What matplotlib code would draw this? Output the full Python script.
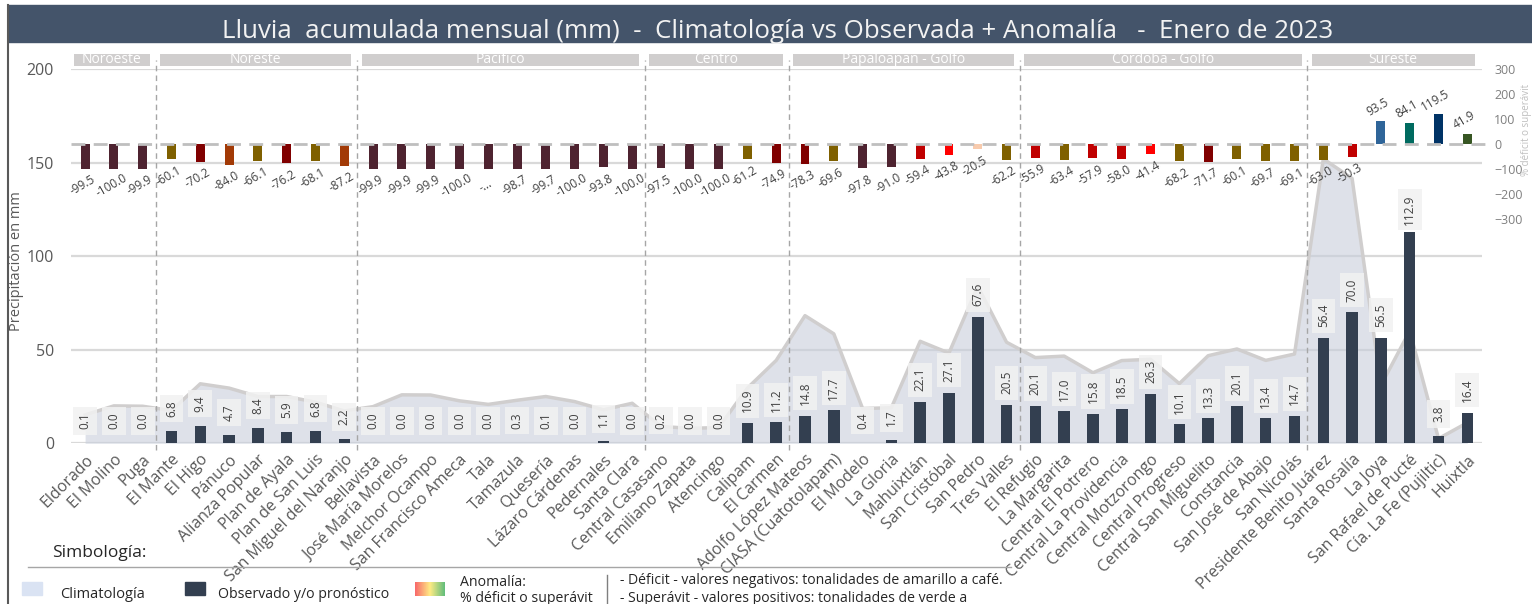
import numpy as np
import matplotlib.pyplot as plt
from matplotlib.patches import Rectangle
from matplotlib.lines import Line2D
from matplotlib.colors import LinearSegmentedColormap

plt.rcParams['font.family'] = ['Open Sans', 'DejaVu Sans']

# Data
stations = ['Eldorado', 'El Molino', 'Puga',
            'El Mante', 'El Higo', 'Pánuco', 'Alianza Popular', 'Plan de Ayala',
            'Plan de San Luis', 'San Miguel del Naranjo',
            'Bellavista', 'José María Morelos', 'Melchor Ocampo', 'San Francisco Ameca',
            'Tala', 'Tamazula', 'Quesería', 'Lázaro Cárdenas', 'Pedernales', 'Santa Clara',
            'Central Casasano', 'Emiliano Zapata', 'Atencingo', 'Calipam', 'El Carmen',
            'Adolfo López Mateos', 'CIASA (Cuatotolapam)', 'El Modelo', 'La Gloria',
            'Mahuixtlán', 'San Cristóbal', 'San Pedro', 'Tres Valles',
            'El Refugio', 'La Margarita', 'Central El Potrero', 'Central La Providencia',
            'Central Motzorongo', 'Central Progreso', 'Central San Miguelito', 'Constancia',
            'San José de Abajo', 'San Nicolás',
            'Presidente Benito Juárez', 'Santa Rosalía', 'La Joya', 'San Rafael de Pucté',
            'Cía. La Fe (Pujiltic)', 'Huixtla']
regions = ['Noroeste', 'Noreste', 'Pacífico', 'Centro', 'Papaloapan - Golfo',
           'Córdoba - Golfo', 'Sureste']
region_size = [3, 7, 10, 5, 8, 10, 6]

climatology = [15.2, 20.0, 19.8, 17.5, 31.8, 29.5, 25.0, 25.0, 22.0, 17.3,
               19.6, 25.9, 25.8, 22.7, 20.8, 23.0, 25.0, 22.3, 17.9, 21.4,
               9.0, 8.0, 8.4, 29.5, 44.3,
               68.2, 58.5, 18.6, 19.0, 54.5, 48.2, 84.0, 54.0,
               45.8, 46.6, 37.7, 44.2, 44.9, 31.9, 46.8, 50.4, 44.3, 47.7,
               152.0, 141.5, 31.0, 60.0, 2.5, 11.0]
observed = [0.1, 0.0, 0.0, 6.8, 9.4, 4.7, 8.4, 5.9, 6.8, 2.2,
            0.0, 0.0, 0.0, 0.0, 0.0, 0.3, 0.1, 0.0, 1.1, 0.0,
            0.2, 0.0, 0.0, 10.9, 11.2,
            14.8, 17.7, 0.4, 1.7, 22.1, 27.1, 67.6, 20.5,
            20.1, 17.0, 15.8, 18.5, 26.3, 10.1, 13.3, 20.1, 13.4, 14.7,
            56.4, 70.0, 56.5, 112.9, 3.8, 16.4]
anomaly = [-99.5, -100.0, -99.9, -60.1, -70.2, -84.0, -66.1, -76.2, -68.1, -87.2,
           -99.9, -99.9, -99.9, -100.0, -100.0, -98.7, -99.7, -100.0, -93.8, -100.0,
           -97.5, -100.0, -100.0, -61.2, -74.9,
           -78.3, -69.6, -97.8, -91.0, -59.4, -43.8, -20.5, -62.2,
           -55.9, -63.4, -57.9, -58.0, -41.4, -68.2, -71.7, -60.1, -69.7, -69.1,
           -63.0, -50.3, 93.5, 84.1, 119.5, 41.9]
anomaly_labels = ['%.1f' % v for v in anomaly]
anomaly_labels[14] = '-...'

title = 'Lluvia  acumulada mensual (mm)  -  Climatología vs Observada + Anomalía   -  Enero de 2023'


def anom_color(v):
    if v <= -90:
        return '#4e2330'
    if v <= -80:
        return '#a23a06'
    if v <= -70:
        return '#800000'
    if v <= -60:
        return '#7f6000'
    if v <= -50:
        return '#c00000'
    if v <= -40:
        return '#ff0000'
    if v < 0:
        return '#f8cbad'
    if v < 60:
        return '#375623'
    if v < 90:
        return '#006b60'
    if v < 100:
        return '#2f6599'
    return '#003366'


W, H = 1532, 604
fig = plt.figure(figsize=(W / 100, H / 100), dpi=100)


def fx(px):
    return px / W


def fy(py):
    return 1 - py / H


# title band and frame
fig.patches.append(Rectangle((fx(8), fy(42)), 1 - fx(8), 37 / H,
                             transform=fig.transFigure, color='#44546a', zorder=0))
fig.text(fx(778), fy(31), title, color='#f2f2f2', fontsize=18.6, ha='center', va='center')
fig.add_artist(Line2D([fx(8), fx(8)], [fy(5), 0], color='#595959', lw=1.5))

# main axis
ax = fig.add_axes([fx(70.7), fy(443.3), (1481.7 - 70.7) / W, (443.3 - 69) / H])
x = np.arange(len(stations))
ax.set_xlim(-0.5, 48.5)
ax.set_ylim(0, 200)
ax.set_yticks([0, 50, 100, 150, 200])
ax.yaxis.grid(True, color='#d9d9d9', lw=1.6)
ax.set_axisbelow(True)
for s in ax.spines.values():
    s.set_visible(False)

ax.fill_between(x, climatology, color='#c8cedb', alpha=0.6, lw=0, zorder=1)
ax.plot(x, climatology, color='#d0cece', lw=2.5, zorder=2)
ax.bar(x, observed, width=0.4, color='#333f50', zorder=3)
for xi, v in zip(x, observed):
    ax.annotate('%.1f' % v, (xi, v), xytext=(0, 16), textcoords='offset points',
                rotation=90, ha='center', va='center', fontsize=8.5, color='#404040',
                bbox=dict(boxstyle='square,pad=0.45', fc='#f2f2f2', ec='none', alpha=0.85),
                zorder=4)

ax.set_xticks(x)
ax.set_xticklabels(stations, rotation=45, ha='right', rotation_mode='anchor',
                   fontsize=11.5, color='#595959')
ax.tick_params(axis='both', length=0)
ax.tick_params(axis='x', pad=6)
ax.tick_params(axis='y', pad=12, labelsize=11.5, labelcolor='#595959')

# region separators and headers
start = 0
for name, n in zip(regions, region_size):
    end = start + n - 1
    ax.add_patch(Rectangle((start - 0.4, 201.6), end + 0.25 - (start - 0.4), 6.5,
                           color='#d0cece', clip_on=False, lw=0))
    ax.text((start - 0.4 + end + 0.25) / 2, 204.9, name, color='white', fontsize=10,
            ha='center', va='center')
    if start > 0:
        ax.plot([start - 0.55] * 2, [-3.6, 205], ls=(0, (4, 3)), color='#a6a6a6',
                lw=1, clip_on=False, zorder=5)
    start = end + 1

# anomaly axis
ax2 = ax.twinx()
ax2.set_ylim(-1197, 300)
ax2.set_yticks(range(-300, 301, 100))
for s in ax2.spines.values():
    s.set_visible(False)
ax2.tick_params(axis='y', length=0, pad=9, labelsize=9, labelcolor='#7f7f7f')
ax2.bar(x, anomaly, width=0.31, color=[anom_color(v) for v in anomaly], zorder=3)
ax2.plot([-0.5, 48.8], [0, 0], ls=(0, (5, 3)), color='#bfbfbf', lw=2, clip_on=False,
         zorder=4)
for xi, v, t in zip(x, anomaly, anomaly_labels):
    dy = -12 if v < 0 else 10
    ax2.annotate(t, (xi, v), xytext=(-2, dy), textcoords='offset points', rotation=30,
                 ha='center', va='center', fontsize=8.5, color='#404040', zorder=5)

fig.text(fx(1527), fy(130), '% déficit o superávit', rotation=90, color='#bfbfbf',
         fontsize=7, ha='center', va='center')
fig.text(fx(17), fy(261), 'Precipitación en mm', rotation=90, color='#595959',
         fontsize=10.5, ha='center', va='center')

# legend
fig.text(fx(52), fy(553), 'Simbología:', fontsize=12.5, color='#262626', va='center')
fig.add_artist(Line2D([fx(28), fx(1011)], [fy(567)] * 2, color='#a6a6a6', lw=1))
fig.patches.append(Rectangle((fx(22), fy(595)), 20 / W, 13 / H,
                             transform=fig.transFigure, color='#dae3f3'))
fig.text(fx(60), fy(594), 'Climatología', fontsize=10.5, color='#262626', va='center')
fig.patches.append(Rectangle((fx(185), fy(595)), 20 / W, 13 / H,
                             transform=fig.transFigure, color='#333f50'))
fig.text(fx(218), fy(594), 'Observado y/o pronóstico', fontsize=10.2, color='#262626',
         va='center')
gax = fig.add_axes([fx(415), fy(596), 30 / W, 14 / H])
cmap = LinearSegmentedColormap.from_list('anom', ['#f8696b', '#ffeb84', '#63be7b'])
gax.imshow(np.linspace(0, 1, 50)[None, :], aspect='auto', cmap=cmap)
gax.axis('off')
fig.text(fx(460), fy(582), 'Anomalía:', fontsize=10.2, color='#262626', va='center')
fig.text(fx(460), fy(598), '% déficit o superávit', fontsize=10.2, color='#262626',
         va='center')
fig.add_artist(Line2D([fx(607), fx(607)], [fy(575), 0], color='#7f7f7f', lw=1))
fig.text(fx(620), fy(581), '- Déficit - valores negativos: tonalidades de amarillo a café.',
         fontsize=10.1, color='#262626', va='center')
fig.text(fx(620), fy(598), '- Superávit - valores positivos: tonalidades de verde a',
         fontsize=10.1, color='#262626', va='center')

fig.savefig('out.png', dpi=100)
